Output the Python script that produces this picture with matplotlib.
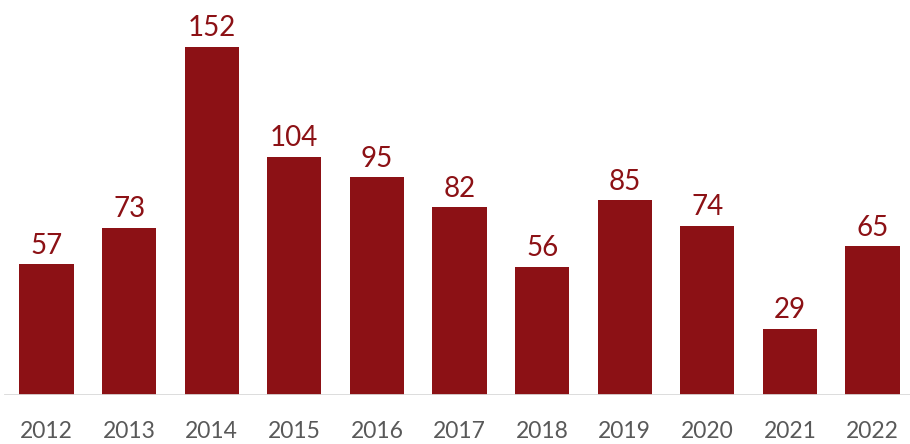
import matplotlib
matplotlib.use("Agg")
import matplotlib.pyplot as plt

# Data
years = ["2012", "2013", "2014", "2015", "2016", "2017", "2018", "2019", "2020", "2021", "2022"]
counts = [57, 73, 152, 104, 95, 82, 56, 85, 74, 29, 65]

bar_color = "#8c1115"
tick_color = "#595959"

plt.rcParams['font.family'] = ['Lato', 'DejaVu Sans']

fig = plt.figure(figsize=(9.1, 4.44), dpi=100)
ax = fig.add_axes([0, 49 / 444, 1, 395 / 444])

x = list(range(len(years)))
ax.bar(x, counts, width=0.655, color=bar_color, zorder=2)

# Value labels above each bar
for xi, v in zip(x, counts):
    ax.annotate(str(v), (xi, v), xytext=(0, 4), textcoords="offset points",
                ha="center", va="bottom", fontsize=20, color=bar_color)

ax.set_xlim(-0.563, 10.454)
ax.set_ylim(0, 172.5)

# Baseline
ax.axhline(0, xmin=5 / 910, xmax=1, color="#d9d9d9", linewidth=2, zorder=3)

for side in ["top", "right", "left", "bottom"]:
    ax.spines[side].set_visible(False)
ax.set_yticks([])
ax.set_xticks(x)
ax.set_xticklabels(years, fontsize=16.5, color=tick_color)
ax.tick_params(axis="x", length=0, pad=19)

fig.savefig("out.png", dpi=100)
